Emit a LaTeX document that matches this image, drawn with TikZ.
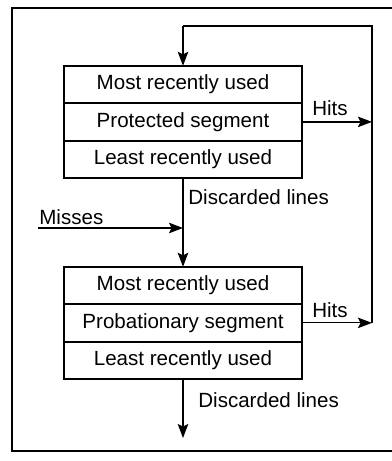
\documentclass[tikz,border=0pt]{standalone}
\usepackage{fontspec}
\setmainfont{Liberation Sans}
\usetikzlibrary{positioning, arrows.meta}

\begin{document}
\begin{tikzpicture}[x=0.02cm, y=-0.02cm,
    every node/.style={font=\fontsize{11.7}{13}\selectfont},
    row/.style={draw, line width=0.5pt, minimum width=238*0.02cm, minimum height=36.5*0.02cm, inner sep=0pt},
    flow/.style={-{Stealth[length=8pt, width=6pt, inset=1.5pt]}, line width=0.7pt},
    segbox/.style={line width=1.2pt}]
      \useasboundingbox (0,0) rectangle (392,461);
      % frame
      \draw[line width=1.1pt] (392,8) -- (12,8) -- (12,451) -- (392,451);

      % protected segment
      \node[row] (s1) at (183, 84.5) {Most recently used};
      \node[row, below=0pt of s1] (s2) {Protected segment};
      \node[row, below=0pt of s2] (s3) {Least recently used};
      \draw[segbox] (s1.north west) rectangle (s3.south east);

      % probationary segment
      \node[row] (p1) at (183, 285.5) {Most recently used};
      \node[row, below=0pt of p1] (p2) {Probationary segment};
      \node[row, below=0pt of p2] (p3) {Least recently used};
      \draw[segbox] (p1.north west) rectangle (p3.south east);

      \coordinate (hitA) at (372, 0 |- s2.east);
      \coordinate (hitB) at (372, 0 |- p2.east);
      \coordinate (topR) at (372, 26);
      \coordinate (topL) at (183, 26);
      \coordinate (miss) at (38, 228);
      \coordinate (join) at (183, 228);
      \coordinate (out) at (183, 438);

      \draw[flow] (s2.east) -- (hitA);
      \draw[flow] (p2.east) -- (hitB);
      \draw[line width=0.7pt] (hitB) -- (topR) -- (topL);
      \draw[flow] (topL) -- (s1.north);
      \draw[flow] (s3.south) -- (p1.north);
      \draw[flow] (miss) -- (join);
      \draw[flow] (p3.south) -- (out);

      \node (hitsA) at (330, 108) {Hits};
      \node (hitsB) at (330, 310) {Hits};
      \node[anchor=west, inner sep=0pt] (discA) at (188, 197) {Discarded lines};
      \node[anchor=west, inner sep=0pt] (discB) at (198, 400) {Discarded lines};
      \node[anchor=west, inner sep=0pt] (misses) at (39, 217) {Misses};
    \end{tikzpicture}
\end{document}
